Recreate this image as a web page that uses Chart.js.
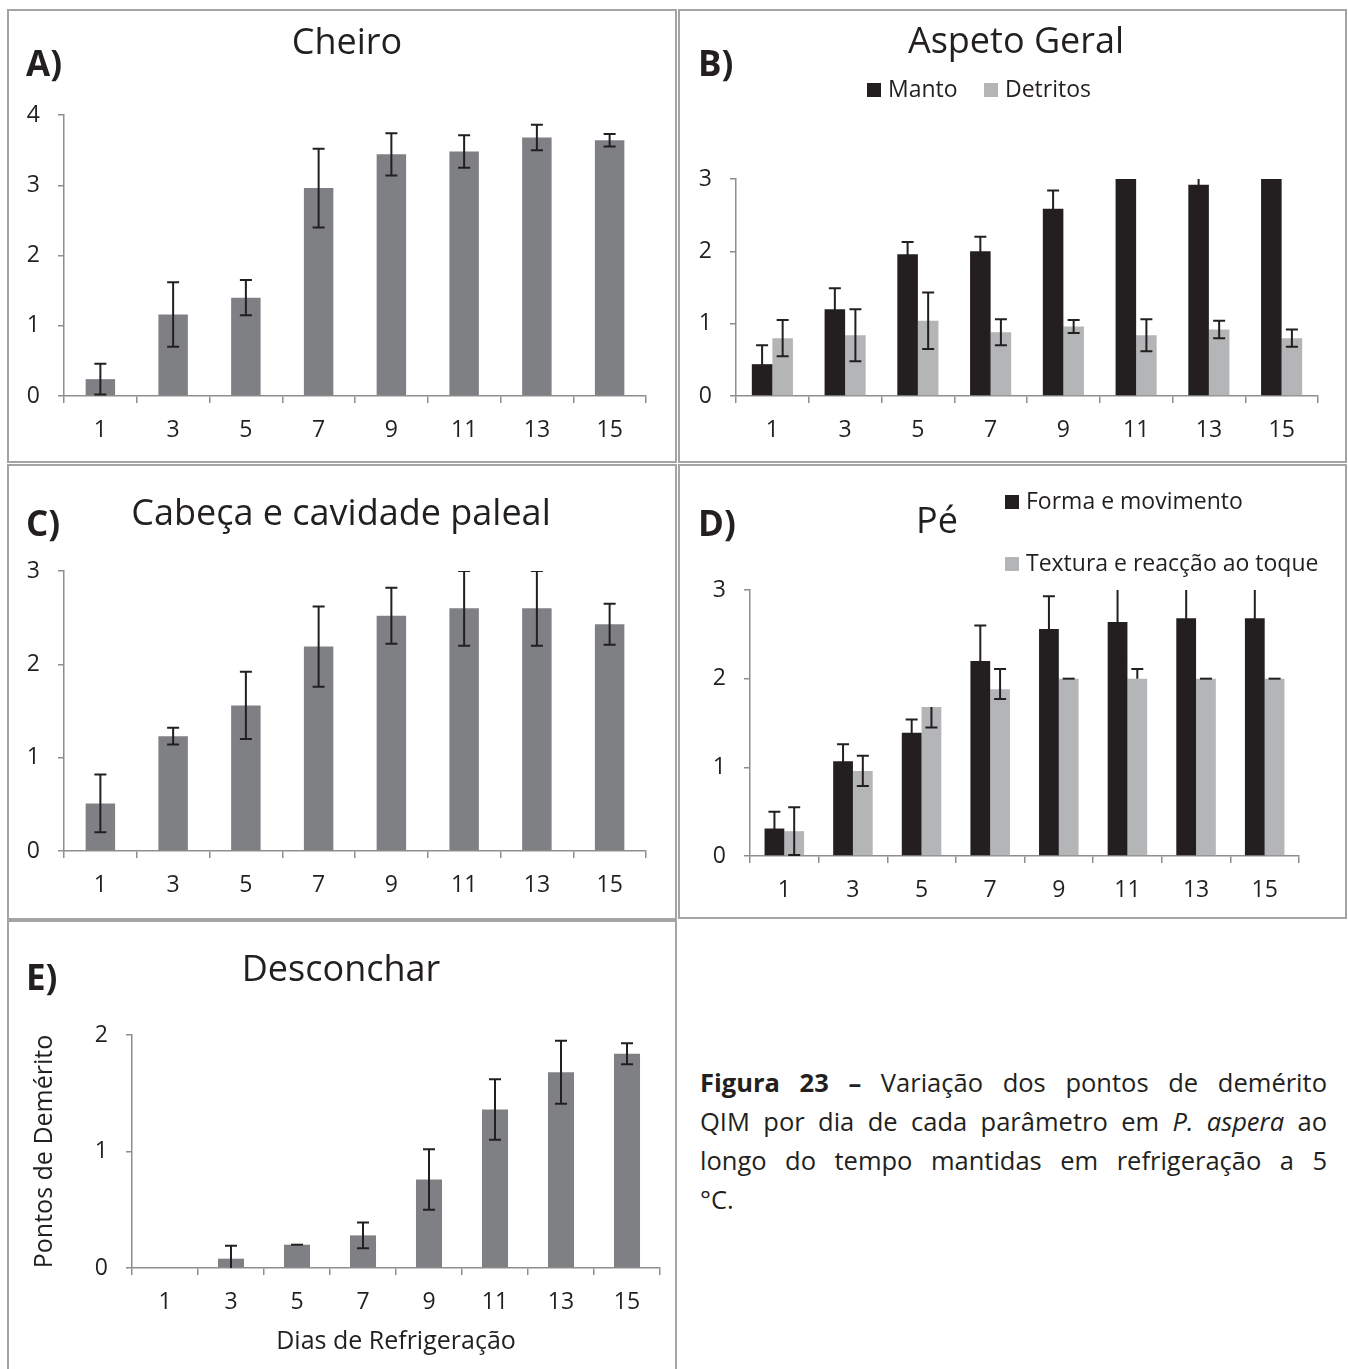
<!DOCTYPE html>
<html>
<head>
<meta charset="utf-8">
<script src="https://cdn.jsdelivr.net/npm/chart.js@4.4.0/dist/chart.umd.min.js"></script>
<style>
  body { margin: 0; background: #fff; }
  #page { position: relative; width: 1348px; height: 1369px; overflow: hidden; font-family: "Open Sans", sans-serif; color: #231f20; }
  .box { position: absolute; border: 2px solid #a4a4a4; box-sizing: border-box; }
  .holder { position: absolute; }
  .txt { position: absolute; white-space: nowrap; }
  .sq { display: inline-block; width: 14px; height: 14px; margin-right: 7px; }
  #caption { position: absolute; left: 700px; top: 1063px; width: 627px; font-size: 25.5px; line-height: 39px; }
  #caption div { text-align: justify; text-align-last: justify; white-space: nowrap; }
  #caption div.last { text-align-last: left; }
</style>
</head>
<body>
<div id="page">
  <div id="caption">
    <div><b>Figura 23 –</b> Variação dos pontos de demérito</div>
    <div>QIM por dia de cada parâmetro em <i>P. aspera</i> ao</div>
    <div>longo do tempo mantidas em refrigeração a 5</div>
    <div class="last">°C.</div>
  </div>
</div>
<script>
// dias de refrigeração (eixo x de todos os gráficos)
const days = ['1', '3', '5', '7', '9', '11', '13', '15'];

// A) Cheiro
const cheiro = [0.24, 1.16, 1.40, 2.96, 3.44, 3.48, 3.68, 3.64];
const cheiroErr = [0.22, 0.46, 0.25, 0.56, 0.30, 0.23, 0.18, 0.09];

// B) Aspeto geral
const manto = [0.44, 1.20, 1.96, 2.00, 2.59, 3.00, 2.92, 3.00];
const mantoErr = [0.26, 0.29, 0.17, 0.20, 0.25, 0, 0.10, 0];
const detritos = [0.80, 0.84, 1.04, 0.88, 0.96, 0.84, 0.92, 0.80];
const detritosErr = [0.25, 0.36, 0.39, 0.18, 0.09, 0.22, 0.12, 0.12];

// C) Cabeça e cavidade paleal
const cabeca = [0.51, 1.23, 1.56, 2.19, 2.52, 2.60, 2.60, 2.43];
const cabecaErr = [0.31, 0.09, 0.36, 0.43, 0.30, 0.40, 0.40, 0.22];

// D) Pé  ([menos, mais] quando a barra de erro não é simétrica)
const forma = [0.31, 1.07, 1.39, 2.20, 2.56, 2.64, 2.68, 2.68];
const formaErr = [0.19, 0.19, 0.15, 0.40, 0.37, 0.45, 0.40, 0.40];
const textura = [0.28, 0.96, 1.68, 1.88, 2.00, 2.00, 2.00, 2.00];
const texturaErr = [0.27, 0.17, [0.23, 0], [0.11, 0.23], 0, [0, 0.11], 0, 0];

// E) Desconchar
const desconchar = [0, 0.08, 0.20, 0.28, 0.76, 1.36, 1.68, 1.84];
const desconcharErr = [null, 0.11, 0, 0.11, 0.26, 0.26, 0.27, 0.09];

const txtCol = '#231f20';
const axisCol = '#8e8e8e';
const midGray = '#7f8084';
const dark = '#231f20';
const light = '#b4b5b7';
const fam = 'Open Sans';

const page = document.getElementById('page');

// texto posicionado pela linha de base
function text(str, x, base, size, opts = {}) {
  const d = document.createElement('div');
  d.className = 'txt';
  d.style.fontSize = size + 'px';
  d.style.lineHeight = size + 'px';
  d.style.top = (base - 0.888 * size) + 'px';
  if (opts.bold) d.style.fontWeight = 'bold';
  if (opts.center) {
    d.style.left = (x - 400) + 'px';
    d.style.width = '800px';
    d.style.textAlign = 'center';
  } else {
    d.style.left = x + 'px';
  }
  d.innerHTML = str;
  page.appendChild(d);
  return d;
}

const errorBars = {
  id: 'errorBars',
  afterDatasetsDraw(chart) {
    const { ctx, chartArea: a } = chart;
    const y = chart.scales.y;
    ctx.save();
    ctx.beginPath();
    ctx.rect(a.left, a.top, a.right - a.left, a.bottom - a.top);
    ctx.clip();
    ctx.strokeStyle = dark;
    ctx.lineWidth = 2;
    chart.data.datasets.forEach((ds, di) => {
      if (!ds.err) return;
      chart.getDatasetMeta(di).data.forEach((bar, i) => {
        const e = ds.err[i];
        if (e == null) return;
        const [lo, hi] = Array.isArray(e) ? e : [e, e];
        const v = ds.data[i];
        const yt = y.getPixelForValue(v + hi);
        const yb = y.getPixelForValue(v - lo);
        const x = bar.x, c = 6;
        ctx.beginPath();
        ctx.moveTo(x, yt); ctx.lineTo(x, yb);
        if (hi > 0 || lo === 0) { ctx.moveTo(x - c, yt); ctx.lineTo(x + c, yt); }
        if (lo > 0) { ctx.moveTo(x - c, yb); ctx.lineTo(x + c, yb); }
        ctx.stroke();
      });
    });
    ctx.restore();
  }
};

function makePanel(box, area, yMax, datasets, catPct, titles = {}) {
  const b = document.createElement('div');
  b.className = 'box';
  Object.assign(b.style, { left: box[0] + 'px', top: box[1] + 'px', width: (box[2] - box[0]) + 'px', height: (box[3] - box[1]) + 'px' });
  page.appendChild(b);

  const w = box[2] - box[0], h = box[3] - box[1];
  const holder = document.createElement('div');
  holder.className = 'holder';
  Object.assign(holder.style, { left: box[0] + 'px', top: box[1] + 'px', width: w + 'px', height: h + 'px' });
  const cv = document.createElement('canvas');
  cv.width = w; cv.height = h;
  holder.appendChild(cv);
  page.appendChild(holder);

  const font = { family: fam, size: 23 };
  const titleFont = { family: fam, size: 25 };
  return new Chart(cv, {
    type: 'bar',
    data: { labels: days, datasets },
    options: {
      responsive: false,
      animation: false,
      layout: { padding: { left: 0, top: area[1] - box[1], right: box[2] - area[2], bottom: 0 } },
      plugins: { legend: { display: false }, tooltip: { enabled: false }, title: { display: false } },
      datasets: { bar: { categoryPercentage: catPct, barPercentage: 1 } },
      scales: {
        x: {
          grid: { offset: true, drawOnChartArea: false, tickLength: 7, color: axisCol, lineWidth: 1.5 },
          border: { color: axisCol, width: 1.5 },
          ticks: { color: txtCol, font, padding: 14, maxRotation: 0 },
          title: { display: !!titles.x, text: titles.x, color: txtCol, font: titleFont, padding: { bottom: titles.xPad || 0 } },
          afterFit: s => { s.height = box[3] - area[3]; }
        },
        y: {
          min: 0, max: yMax,
          grid: { drawOnChartArea: false, tickLength: 6, color: axisCol, lineWidth: 1.5 },
          border: { color: axisCol, width: 1.5 },
          ticks: { stepSize: 1, color: txtCol, font, padding: 18 },
          title: { display: !!titles.y, text: titles.y, color: txtCol, font: titleFont, padding: { top: titles.yPad || 0 } },
          afterFit: s => { s.width = area[0] - box[0]; }
        }
      }
    },
    plugins: [errorBars]
  });
}

// A) Cheiro
makePanel([7, 9, 677, 463], [64, 115, 646, 396], 4,
  [{ data: cheiro, err: cheiroErr, backgroundColor: midGray }], 0.405);
text('A)', 26, 76, 35, { bold: true });
text('Cheiro', 347, 55, 36, { center: true });

// B) Aspeto Geral
makePanel([678, 9, 1347, 463], [736, 179, 1318, 396], 3,
  [{ label: 'Manto', data: manto, err: mantoErr, backgroundColor: dark },
   { label: 'Detritos', data: detritos, err: detritosErr, backgroundColor: light }], 0.565);
text('B)', 698, 76, 35, { bold: true });
text('Aspeto Geral', 1016, 54, 36, { center: true });
text('<span class="sq" style="background:' + dark + '"></span>Manto', 867, 97, 23);
text('<span class="sq" style="background:' + light + '"></span>Detritos', 984, 97, 23);

// C) Cabeça e cavidade paleal
makePanel([7, 464, 677, 920], [64, 571, 646, 851], 3,
  [{ data: cabeca, err: cabecaErr, backgroundColor: midGray }], 0.405);
text('C)', 26, 536, 35, { bold: true });
text('Cabeça e cavidade paleal', 341, 526, 36, { center: true });

// D) Pé
makePanel([678, 464, 1347, 919], [750, 590, 1299, 856], 3,
  [{ label: 'Forma e movimento', data: forma, err: formaErr, backgroundColor: dark },
   { label: 'Textura e reacção ao toque', data: textura, err: texturaErr, backgroundColor: light }], 0.576);
text('D)', 698, 536, 35, { bold: true });
text('Pé', 937, 534, 36, { center: true });
text('<span class="sq" style="background:' + dark + '"></span>Forma e movimento', 1005, 509, 23);
text('<span class="sq" style="background:' + light + '"></span>Textura e reacção ao toque', 1005, 571, 23);

// E) Desconchar
makePanel([7, 920, 677, 1380], [132, 1035, 660, 1268], 2,
  [{ data: desconchar, err: desconcharErr, backgroundColor: midGray }], 0.395,
  { x: 'Dias de Refrigeração', xPad: 23, y: 'Pontos de Demérito', yPad: 23 });
text('E)', 26, 990, 35, { bold: true });
text('Desconchar', 341, 982, 36, { center: true });
</script>
</body>
</html>
